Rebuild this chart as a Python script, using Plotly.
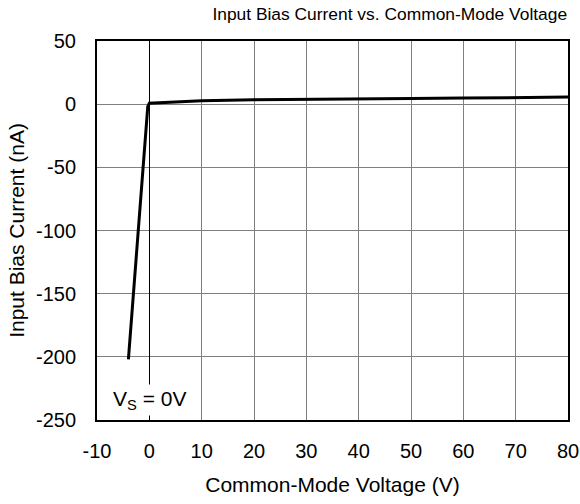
import plotly.graph_objects as go

# Common-mode voltage (V) and input bias current (nA)
vcm = [-4, -0.3, 0, 5, 10, 20, 30, 40, 50, 60, 70, 80]
ib = [-202, -2, 0.8, 2.0, 2.7, 3.4, 3.9, 4.2, 4.5, 4.8, 5.1, 5.6]

x_ticks = [-10, 0, 10, 20, 30, 40, 50, 60, 70, 80]
y_ticks = [-250, -200, -150, -100, -50, 0, 50]

fig = go.Figure()
fig.add_trace(go.Scatter(
    x=vcm, y=ib, mode='lines',
    line=dict(color='black', width=3),
    showlegend=False
))

fig.update_layout(
    width=580, height=504,
    paper_bgcolor='white', plot_bgcolor='white',
    font=dict(family='Liberation Sans, Arial, sans-serif', size=20, color='black'),
    title=dict(text='Input Bias Current vs. Common-Mode Voltage',
               x=0.672, xanchor='center', y=0.972, yanchor='middle',
               font=dict(size=17.4)),
    margin=dict(l=97, r=12, t=41, b=84),
    xaxis=dict(
        range=[-10, 80], tickvals=x_ticks, ticktext=[str(v) for v in x_ticks],
        ticks='', ticklabelstandoff=12, automargin=False,
        showgrid=True, gridcolor='#808080', gridwidth=1,
        zeroline=True, zerolinecolor='black', zerolinewidth=1,
        showline=True, linecolor='black', linewidth=2, mirror=True,
        title=dict(text='Common-Mode Voltage (V)', font=dict(size=21), standoff=16),
    ),
    yaxis=dict(
        range=[-250, 50], tickvals=y_ticks, ticktext=[str(v) for v in y_ticks],
        ticks='', ticklabelstandoff=15, automargin=False,
        showgrid=True, gridcolor='#808080', gridwidth=1,
        zeroline=False,
        showline=True, linecolor='black', linewidth=2, mirror=True,
        title=dict(text='Input Bias Current (nA)', font=dict(size=21), standoff=6),
    ),
    annotations=[dict(
        x=0.1, y=-234, xref='x', yref='y',
        text='V<sub>S</sub> = 0V', showarrow=False,
        font=dict(size=21), bgcolor='white',
        borderpad=2,
    )],
)

fig.write_html("out.html", config={'displayModeBar': False},
               post_script="document.body.style.margin='0';")
